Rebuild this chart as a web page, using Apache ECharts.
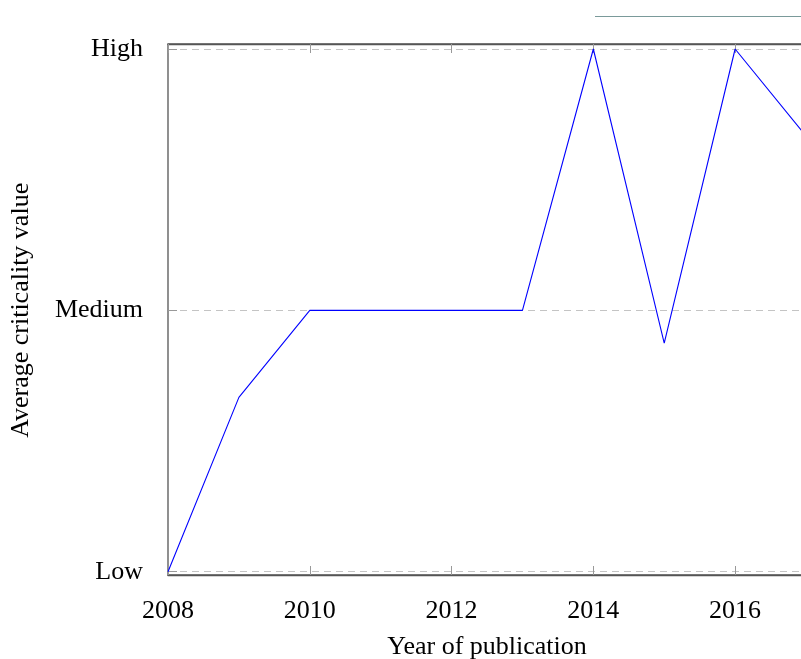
<!DOCTYPE html>
<html>
<head>
<meta charset="utf-8">
<script src="https://cdn.jsdelivr.net/npm/echarts@6/dist/echarts.min.js"></script>
<style>html,body{margin:0;padding:0;background:#fff;}#c{width:801px;height:659px;}</style>
</head>
<body>
<div id="c"></div>
<script>
const years = [2008, 2009, 2010, 2011, 2012, 2013, 2014, 2015, 2016, 2017];
const criticality = [1, 1.667, 2, 2, 2, 2, 3, 1.875, 3, 2.667];
const levelLabels = {1: 'Low', 2: 'Medium', 3: 'High'};
const xTitle = 'Year of publication';
const yTitle = 'Average criticality value';

const FONT = '"Liberation Serif", "DejaVu Serif", serif';
const chart = echarts.init(document.getElementById('c'), null, {renderer: 'canvas'});
chart.setOption({
  animation: false,
  backgroundColor: '#fff',
  grid: [
    {left: 168, top: 44, width: 638, height: 531, show: true, borderColor: '#555', borderWidth: 1.3,
     backgroundColor: 'transparent', containLabel: false, outerBoundsMode: 'none'},
    {left: 168, top: 49, width: 638, height: 522.7, show: false, containLabel: false, outerBoundsMode: 'none'}
  ],
  xAxis: [
    {
      gridIndex: 0, type: 'value', position: 'bottom', min: 2008, max: 2017, interval: 2,
      axisLine: {show: true, lineStyle: {color: '#555', width: 1.3}},
      axisTick: {show: true, inside: true, length: 9, lineStyle: {color: '#999', width: 1}},
      splitLine: {show: false},
      axisLabel: {
        margin: 23, color: '#000', fontFamily: FONT, fontSize: 26,
        formatter: v => (v % 2 === 0 ? String(v) : '')
      },
      name: xTitle, nameLocation: 'middle', nameGap: 59,
      nameTextStyle: {color: '#000', fontFamily: FONT, fontSize: 26}
    },
    {
      gridIndex: 0, type: 'value', position: 'top', min: 2008, max: 2017, interval: 2,
      axisLine: {show: true, lineStyle: {color: '#555', width: 1.3}},
      axisTick: {show: true, inside: true, length: 9, lineStyle: {color: '#999', width: 1}},
      splitLine: {show: false}, axisLabel: {show: false}
    },
    {
      gridIndex: 1, type: 'value', min: 2008, max: 2017, show: false,
      splitLine: {show: false}
    }
  ],
  yAxis: [
    {
      gridIndex: 1, type: 'value', min: 1, max: 3, interval: 1,
      axisLine: {show: false},
      axisTick: {show: true, inside: true, length: 9, lineStyle: {color: '#999', width: 1}},
      splitLine: {show: true, lineStyle: {color: '#c4c4c4', type: [7, 5], width: 1}},
      axisLabel: {
        margin: 25, color: '#000', fontFamily: FONT, fontSize: 26,
        formatter: v => levelLabels[v] || ''
      },
      name: yTitle, nameLocation: 'middle', nameGap: 134,
      nameTextStyle: {color: '#000', fontFamily: FONT, fontSize: 26}
    },
    {
      gridIndex: 0, type: 'value', min: 0, max: 1, show: false, splitLine: {show: false}
    }
  ],
  graphic: [
    {type: 'line', shape: {x1: 595, y1: 16.5, x2: 801, y2: 16.5}, style: {stroke: '#7a9a9a', lineWidth: 1}}
  ],
  series: [
    {
      type: 'line', xAxisIndex: 2, yAxisIndex: 0,
      data: years.map((y, i) => [y, criticality[i]]),
      symbol: 'none', clip: false,
      lineStyle: {color: '#0000ff', width: 1.1},
      itemStyle: {color: '#0000ff'}, z: 5
    }
  ]
});
</script>
</body>
</html>
